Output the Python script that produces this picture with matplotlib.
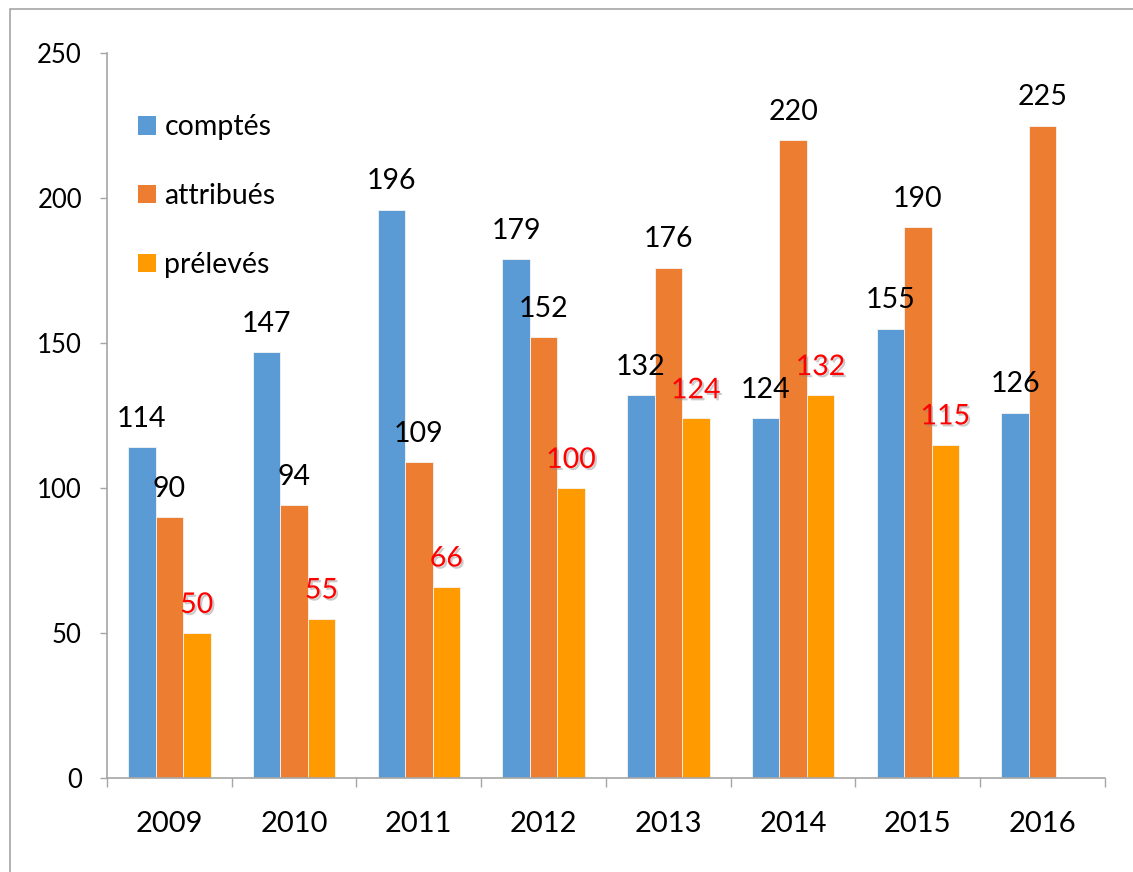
import numpy as np
import matplotlib.pyplot as plt
import matplotlib.patheffects as pe
from matplotlib.patches import Rectangle, Patch

plt.rcParams['font.family'] = ['Lato', 'DejaVu Sans']

years = ['2009', '2010', '2011', '2012', '2013', '2014', '2015', '2016']
comptes = [114, 147, 196, 179, 132, 124, 155, 126]
attribues = [90, 94, 109, 152, 176, 220, 190, 225]
preleves = [50, 55, 66, 100, 124, 132, 115]   # no value for 2016

series_names = ['comptés', 'attribués', 'prélevés']
colors = ['#5B9BD5', '#ED7D31', '#FF9A00']

fig = plt.figure(figsize=(11.33, 8.72), dpi=100)
ax = fig.add_axes([0.0944, 0.1078, 0.9753 - 0.0944, 0.9392 - 0.1078])

# outer chart frame (only top/left edges fall inside the image)
fig.patches.append(Rectangle((10 / 1133, -0.2), 1.5, 0.2 + 1 - 9 / 872,
                             transform=fig.transFigure, fill=False,
                             edgecolor='#a6a6a6', lw=1.2, zorder=0))

x = np.arange(len(years))
w = 0.22
shadow = [pe.withSimplePatchShadow(offset=(1.5, -1.5), shadow_rgbFace='#8c8c8c', alpha=0.45)]

for i, (vals, col) in enumerate(zip([comptes, attribues, preleves], colors)):
    xs = x[:len(vals)] + (i - 1) * w
    ax.bar(xs, vals, width=w, color=col, edgecolor='#f4f4f4', linewidth=0.6, zorder=2)
    for xi, v in zip(xs, vals):
        if i == 2:
            ax.annotate(str(v), (xi, v), xytext=(0, 14.5), textcoords='offset points',
                        ha='center', va='baseline', fontsize=20.5, color='#ff0000',
                        path_effects=shadow, zorder=4)
        else:
            ax.annotate(str(v), (xi, v), xytext=(0, 14.5), textcoords='offset points',
                        ha='center', va='baseline', fontsize=20.5, color='black', zorder=4)

ax.set_xlim(-0.5, len(years) - 0.5)
ax.set_ylim(0, 250)
ax.set_yticks(range(0, 251, 50))
ax.tick_params(axis='y', length=5, width=1, color='#a6a6a6', pad=13, labelsize=18.5)

# year labels at group centres, tick marks at group boundaries
ax.set_xticks(x)
ax.set_xticklabels(years)
ax.tick_params(axis='x', which='major', length=0, pad=24, labelsize=21)
ax.set_xticks(np.arange(len(years) + 1) - 0.5, minor=True)
ax.tick_params(axis='x', which='minor', length=6.5, width=1, color='#a6a6a6')

for s in ['top', 'right']:
    ax.spines[s].set_visible(False)
for s in ['left', 'bottom']:
    ax.spines[s].set_color('#a6a6a6')
    ax.spines[s].set_linewidth(1.2)

handles = [Patch(facecolor=c, edgecolor='none') for c in colors]
ax.legend(handles, series_names, loc='upper left', bbox_to_anchor=(0.017, 0.935),
          frameon=False, fontsize=20.5, handlelength=0.62, handleheight=0.62,
          handletextpad=0.3, labelspacing=1.5, borderpad=0)

fig.savefig('out.png', dpi=100)
